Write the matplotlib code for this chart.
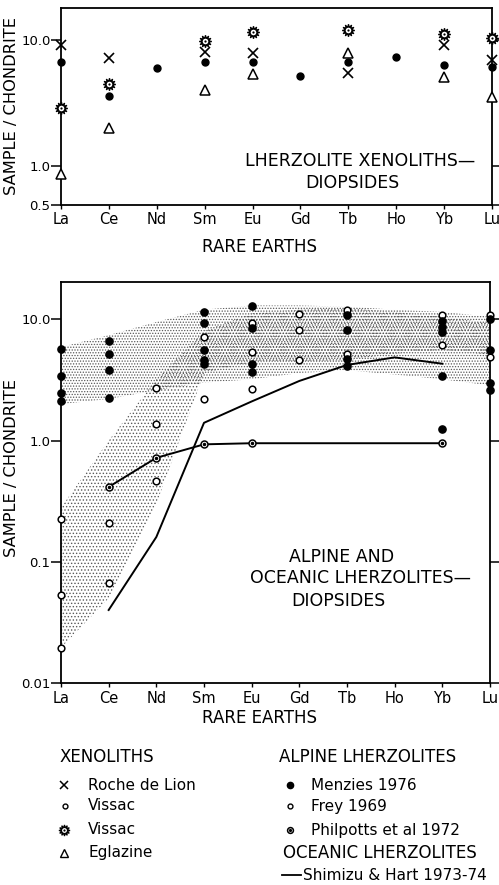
import matplotlib
matplotlib.use('Agg')
import matplotlib.pyplot as plt

plt.rcParams['font.family'] = ['DejaVu Sans']
plt.rcParams['hatch.linewidth'] = 0.6
plt.rcParams['hatch.color'] = '0.35'

REE = ['La', 'Ce', 'Nd', 'Sm', 'Eu', 'Gd', 'Tb', 'Ho', 'Yb', 'Lu']

# ---------------- top panel: lherzolite xenoliths ----------------
roche_ree = ['La', 'Ce', 'Sm', 'Eu', 'Tb', 'Yb', 'Lu']
roche_val = [9.1, 7.2, 8.0, 7.9, 5.5, 9.1, 6.9]
vissac_dot_ree = ['La', 'Ce', 'Nd', 'Sm', 'Eu', 'Gd', 'Tb', 'Ho', 'Yb', 'Lu']
vissac_dot_val = [6.6, 3.6, 6.0, 6.7, 6.7, 5.2, 6.7, 7.3, 6.3, 6.1]
vissac_star_ree = ['La', 'Ce', 'Sm', 'Eu', 'Tb', 'Yb', 'Lu']
vissac_star_val = [2.9, 4.5, 9.7, 11.4, 12.0, 11.0, 10.3]
eglazine_ree = ['La', 'Ce', 'Sm', 'Eu', 'Tb', 'Yb', 'Lu']
eglazine_val = [0.88, 2.0, 4.0, 5.4, 7.9, 5.1, 3.5]

# ---------------- bottom panel: alpine & oceanic lherzolites ----------------
menzies_ree = ['La', 'La', 'La', 'La', 'Ce', 'Ce', 'Ce', 'Ce',
               'Sm', 'Sm', 'Sm', 'Sm', 'Sm', 'Eu', 'Eu', 'Eu', 'Eu',
               'Tb', 'Tb', 'Tb', 'Tb', 'Yb', 'Yb', 'Yb', 'Yb', 'Yb',
               'Lu', 'Lu', 'Lu', 'Lu']
menzies_val = [5.7, 3.4, 2.45, 2.1, 6.6, 5.2, 3.8, 2.26,
               11.4, 9.3, 5.6, 4.6, 4.3, 12.9, 8.4, 4.3, 3.7,
               10.9, 8.1, 4.7, 4.1, 9.7, 8.7, 7.9, 3.4, 1.24,
               10.0, 5.6, 2.96, 2.6]
frey_ree = ['La', 'La', 'La', 'Ce', 'Ce', 'Nd', 'Nd', 'Nd',
            'Sm', 'Sm', 'Eu', 'Eu', 'Eu', 'Gd', 'Gd', 'Gd',
            'Tb', 'Tb', 'Yb', 'Yb', 'Lu', 'Lu']
frey_val = [0.226, 0.053, 0.0195, 0.21, 0.067, 2.7, 1.38, 0.46,
            7.2, 2.2, 9.3, 5.4, 2.65, 11.0, 8.2, 4.6,
            11.9, 5.2, 10.8, 6.1, 10.8, 4.9]
philpotts_ree = ['Ce', 'Nd', 'Sm', 'Eu', 'Yb']
philpotts_val = [0.414, 0.72, 0.93, 0.95, 0.95]
shimizu_ree = ['Ce', 'Nd', 'Sm', 'Eu', 'Gd', 'Tb', 'Ho', 'Yb']
shimizu_val = [0.04, 0.16, 1.4, 2.1, 3.1, 4.2, 4.85, 4.3]

# stippled envelopes (per REE, La..Lu)
band1_upper = [5.9, 7.4, 9.5, 12.0, 13.0, 13.0, 12.7, 12.0, 11.5, 10.5]
band1_lower = [2.0, 2.2, 2.6, 3.0, 3.2, 3.6, 3.8, 3.5, 3.2, 2.85]
band2_upper = [0.28, 1.0, 3.2, 8.0, 11.2, 12.0, 12.4, 11.5, 10.5, 9.3]
band2_lower = [0.0195, 0.05, 0.3, 3.6, 4.4, 4.5, 4.6, 5.2, 5.6, 5.1]

W, H = 499, 885
LAB = 12


def idx(names):
    return [REE.index(n) for n in names]


def rect(l, t, r, b):
    return [l / W, 1 - b / H, (r - l) / W, (b - t) / H]


def ftext(x, y, s, **kw):
    kw.setdefault('fontsize', LAB)
    kw.setdefault('ha', 'center')
    kw.setdefault('va', 'center')
    fig.text(x / W, 1 - y / H, s, **kw)


def star_marker(ax, xs, ys, ms=9, clip=False):
    ax.plot(xs, ys, ls='none', marker=(12, 1, 0), ms=ms, mfc='white',
            mec='black', mew=0.9, clip_on=clip, zorder=5)
    ax.plot(xs, ys, ls='none', marker='o', ms=ms * 0.55, mfc='white',
            mec='black', mew=0.9, clip_on=clip, zorder=6)
    ax.plot(xs, ys, ls='none', marker='o', ms=1.6, mfc='black',
            mec='black', mew=0, clip_on=clip, zorder=7)


fig = plt.figure(figsize=(W / 100, H / 100), dpi=100)

ax1 = fig.add_axes(rect(61, 7.5, 492, 204.7))
ax2 = fig.add_axes(rect(61, 282, 490, 683))

for ax in (ax1, ax2):
    ax.set_yscale('log')
    ax.set_xlim(0, 9)
    ax.set_xticks(range(len(REE)))
    ax.set_xticklabels(REE)
    ax.minorticks_off()
    for s in ax.spines.values():
        s.set_linewidth(1.3)
    ax.tick_params(axis='y', which='both', direction='out', length=7,
                   width=1.1, left=True, right=True, labelsize=9.5, pad=0.5)
    ax.tick_params(axis='x', direction='out', length=3, width=1.0,
                   labelsize=10.5, pad=2.5)
    ax.yaxis.set_minor_locator(matplotlib.ticker.NullLocator())

ax1.set_ylim(0.5, 17.9)
ax1.set_yticks([0.5, 1.0, 10.0])
ax1.set_yticklabels(['0.5', '1.0', '10.0'])
ax2.set_ylim(0.01, 20.3)
ax2.set_yticks([0.01, 0.1, 1.0, 10.0])
ax2.set_yticklabels(['0.01', '0.1', '1.0', '10.0'])

# ---- top panel marks ----
ax1.plot(idx(vissac_dot_ree), vissac_dot_val, ls='none', marker='o', ms=5,
         mfc='black', mec='black', clip_on=False, zorder=4)
ax1.plot(idx(roche_ree), roche_val, ls='none', marker='x', ms=7, mew=1.2,
         color='black', clip_on=False, zorder=4)
star_marker(ax1, idx(vissac_star_ree), vissac_star_val, ms=9)
ax1.plot(idx(eglazine_ree), eglazine_val, ls='none', marker='^', ms=6.5,
         mfc='white', mec='black', mew=1.1, clip_on=False, zorder=4)

# ---- bottom panel bands ----
xs = list(range(len(REE)))
ax2.fill(xs + xs[::-1], band1_upper + band1_lower[::-1], facecolor='none',
         edgecolor='0.35', hatch='......', linewidth=0, zorder=1)
ax2.fill(xs + xs[::-1], band2_upper + band2_lower[::-1], facecolor='none',
         edgecolor='0.35', hatch='.....', linewidth=0, zorder=1)

# ---- bottom panel marks ----
ax2.plot(idx(shimizu_ree), shimizu_val, color='black', lw=1.4, zorder=3)
ax2.plot(idx(philpotts_ree), philpotts_val, color='black', lw=1.4,
         marker='o', ms=5, mfc='white', mec='black', mew=1.1, zorder=4)
ax2.plot(idx(philpotts_ree), philpotts_val, ls='none', marker='o', ms=1.5,
         mfc='black', mec='black', zorder=5)
ax2.plot(idx(frey_ree), frey_val, ls='none', marker='o', ms=4.8, mfc='white',
         mec='black', mew=1.1, clip_on=False, zorder=4)
ax2.plot(idx(menzies_ree), menzies_val, ls='none', marker='o', ms=5.2,
         mfc='black', mec='black', clip_on=False, zorder=5)

# ---- annotations ----
ftext(12, 106, 'SAMPLE / CHONDRITE', rotation=90, fontsize=11.7)
ftext(260, 247, 'RARE EARTHS')
ftext(360, 161, 'LHERZOLITE XENOLITHS\u2014', fontsize=12.5)
ftext(352, 183, 'DIOPSIDES', fontsize=12.5)

ftext(12, 468, 'SAMPLE / CHONDRITE', rotation=90, fontsize=11.7)
ftext(260, 718, 'RARE EARTHS')
ftext(342, 557, 'ALPINE AND', fontsize=12.5)
ftext(360, 578, 'OCEANIC LHERZOLITES\u2014', fontsize=12.5)
ftext(338, 601, 'DIOPSIDES', fontsize=12.5)

# ---- legend block ----
leg = fig.add_axes([0, 0, 1, 1])
leg.set_xlim(0, W)
leg.set_ylim(H, 0)
leg.axis('off')
leg.patch.set_alpha(0)

HEAD = 12
ENT = 11
ftext(60, 757, 'XENOLITHS', ha='left', fontsize=HEAD)
leg.plot([64], [785], ls='none', marker='x', ms=6, mew=1.1, color='black')
ftext(88, 785, 'Roche de Lion', ha='left', fontsize=ENT)
leg.plot([65], [806], ls='none', marker='o', ms=3.5, mfc='white', mec='black', mew=1)
ftext(88, 806, 'Vissac', ha='left', fontsize=ENT)
star_marker(leg, [64], [830], ms=8, clip=True)
ftext(88, 830, 'Vissac', ha='left', fontsize=ENT)
leg.plot([64], [853], ls='none', marker='^', ms=5.5, mfc='white', mec='black', mew=1)
ftext(88, 853, 'Eglazine', ha='left', fontsize=ENT)

ftext(279, 757, 'ALPINE LHERZOLITES', ha='left', fontsize=HEAD)
leg.plot([290], [785], ls='none', marker='o', ms=4.5, mfc='black', mec='black')
ftext(311, 785, 'Menzies 1976', ha='left', fontsize=ENT)
leg.plot([290], [806], ls='none', marker='o', ms=3.5, mfc='white', mec='black', mew=1)
ftext(311, 806, 'Frey 1969', ha='left', fontsize=ENT)
leg.plot([290], [830], ls='none', marker='o', ms=4.2, mfc='white', mec='black', mew=1.1)
leg.plot([290], [830], ls='none', marker='o', ms=1.3, mfc='black', mec='black')
ftext(311, 830, 'Philpotts et al 1972', ha='left', fontsize=ENT)
ftext(283, 853, 'OCEANIC LHERZOLITES', ha='left', fontsize=HEAD)
leg.plot([282, 301], [875, 875], color='black', lw=1.3)
ftext(303, 875, 'Shimizu & Hart 1973-74', ha='left', fontsize=ENT)

fig.savefig('out.png', dpi=100)
